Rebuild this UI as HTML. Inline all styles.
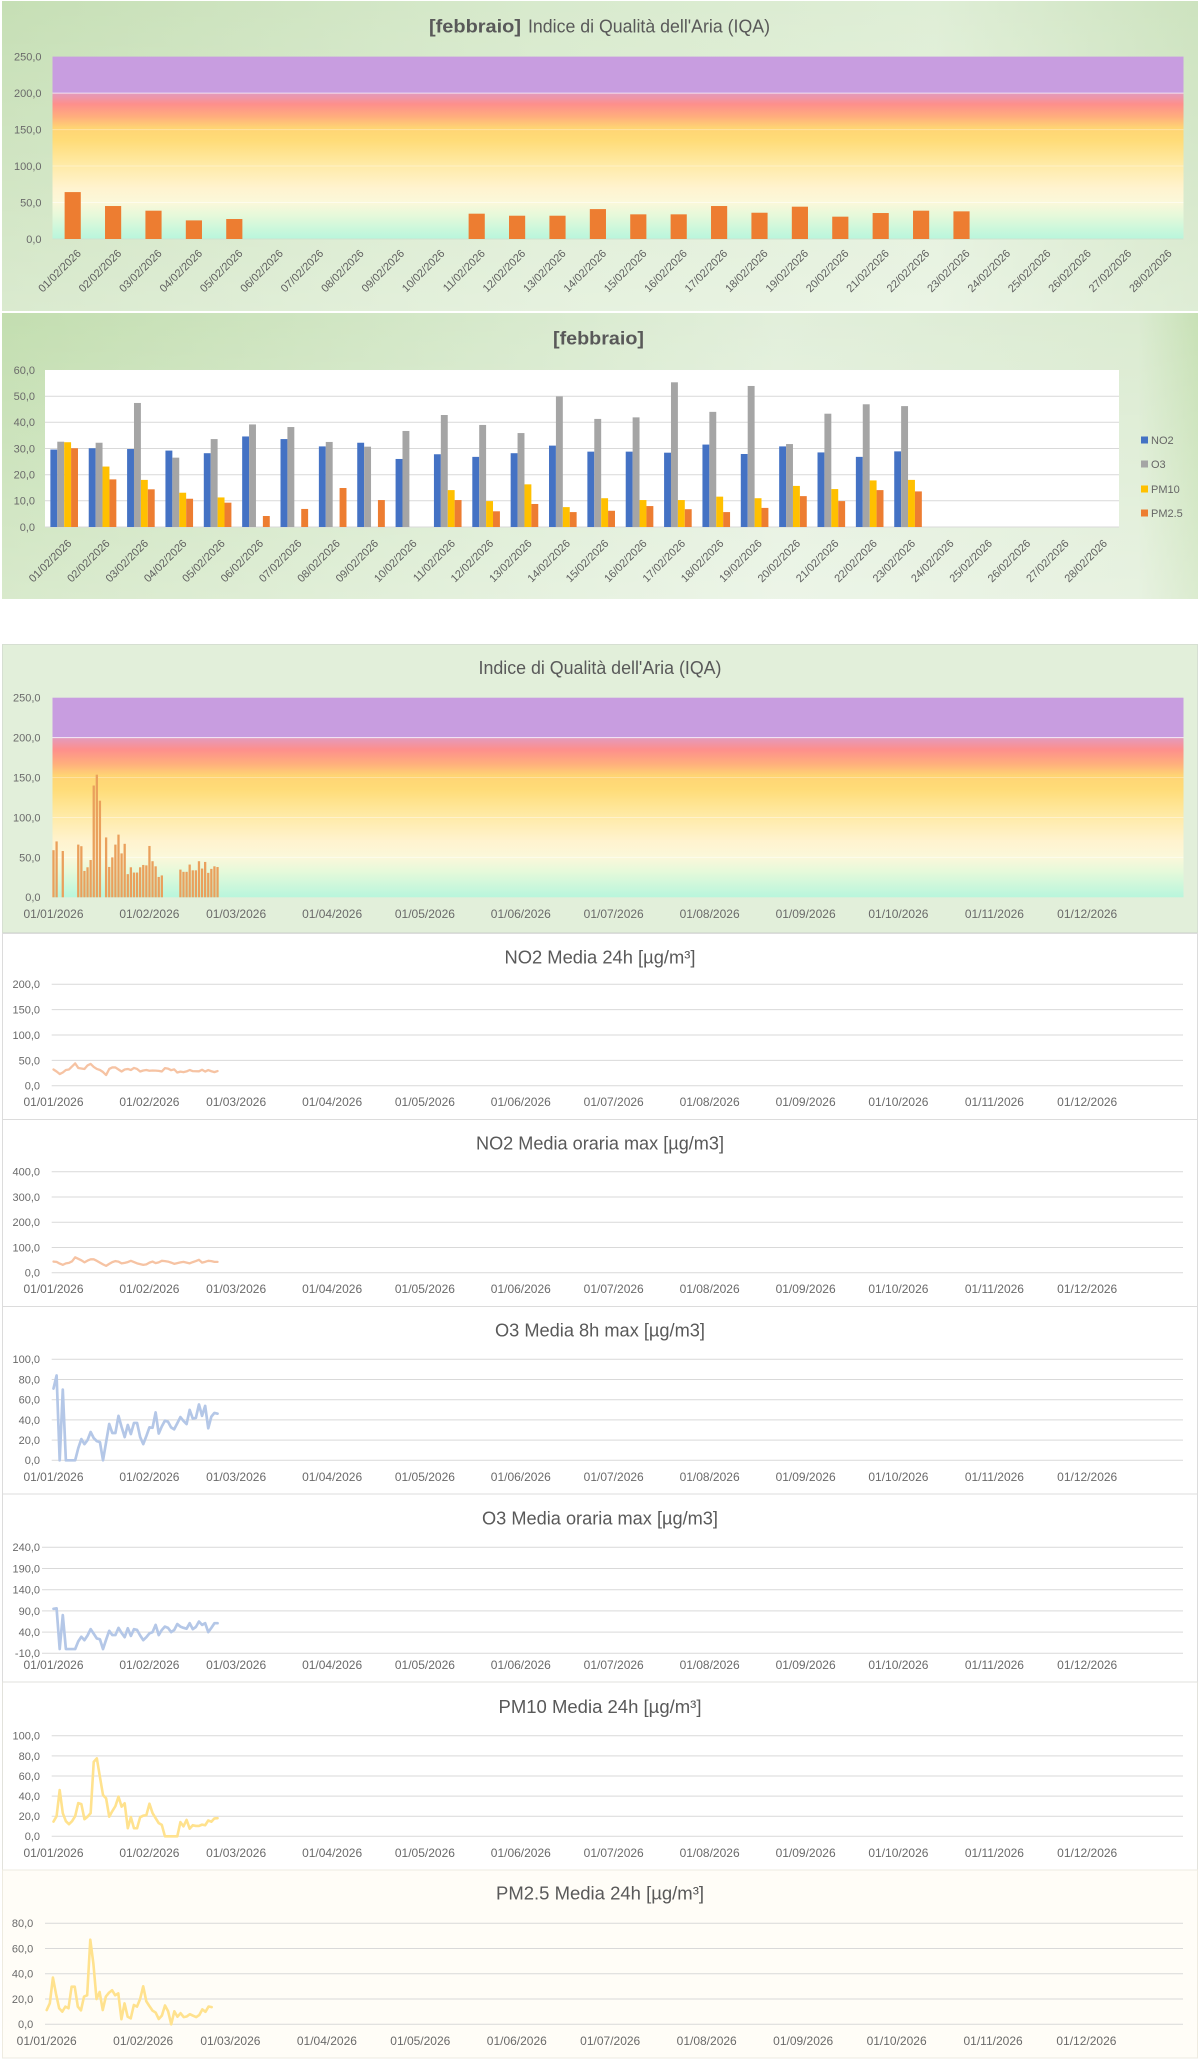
<!DOCTYPE html>
<html><head><meta charset="utf-8"><style>
html,body{margin:0;padding:0;background:#fff;}
svg{display:block;}
text{font-family:"Liberation Sans",Arial,sans-serif;}
.yl{font-size:11px;fill:#6a6a6a;text-anchor:end;}
.dl{font-size:12px;fill:#6a6a6a;text-anchor:middle;}
.rl{font-size:11px;fill:#5f5f5f;text-anchor:end;}
.tt{font-size:18px;fill:#595959;}
.gl{stroke:#d9d9d9;stroke-width:1;}
.ln{fill:none;stroke-linejoin:round;stroke-linecap:round;}
</style></head><body>
<svg width="1200" height="2061" viewBox="0 0 1200 2061" xmlns="http://www.w3.org/2000/svg">
<defs>
<linearGradient id="p1h" x1="0" y1="0" x2="1" y2="0">
<stop offset="0" stop-color="#c6dfb5"/><stop offset="0.45" stop-color="#d8eacd"/><stop offset="0.78" stop-color="#dfeed6"/><stop offset="1" stop-color="#cde3bf"/></linearGradient>
<linearGradient id="pv" x1="0" y1="0" x2="0" y2="1">
<stop offset="0" stop-color="#ffffff" stop-opacity="0"/><stop offset="1" stop-color="#ffffff" stop-opacity="0.35"/></linearGradient>
<linearGradient id="p2h" x1="0" y1="0" x2="1" y2="0">
<stop offset="0" stop-color="#c3deb0"/><stop offset="0.4" stop-color="#d6e9cb"/><stop offset="0.65" stop-color="#e2efdb"/><stop offset="0.95" stop-color="#dbebd1"/><stop offset="1" stop-color="#c8e1b6"/></linearGradient>
<linearGradient id="iqa" x1="0" y1="0" x2="0" y2="1">
<stop offset="0" stop-color="#c89de0"/><stop offset="0.199" stop-color="#c89de0"/>
<stop offset="0.201" stop-color="#e39bbd"/><stop offset="0.26" stop-color="#fe8f8c"/>
<stop offset="0.33" stop-color="#ffae7d"/><stop offset="0.39" stop-color="#ffd474"/>
<stop offset="0.46" stop-color="#ffdc78"/><stop offset="0.58" stop-color="#ffe9a2"/>
<stop offset="0.72" stop-color="#fff3cf"/><stop offset="0.8" stop-color="#fbf8da"/>
<stop offset="0.87" stop-color="#e6f9da"/><stop offset="1" stop-color="#b8f6dc"/></linearGradient>
</defs>

<!-- ============ PANEL 1 ============ -->
<rect x="2" y="1" width="1196" height="310" fill="url(#p1h)"/>
<rect x="2" y="1" width="1196" height="310" fill="url(#pv)"/>
<text class="tt" x="429" y="32.5" font-weight="bold" textLength="92" lengthAdjust="spacingAndGlyphs">[febbraio]</text>
<text class="tt" x="528" y="32.5" textLength="242" lengthAdjust="spacingAndGlyphs">Indice di Qualità dell'Aria (IQA)</text>
<rect x="52.5" y="56.6" width="1131" height="182.4" fill="url(#iqa)"/>
<g stroke="#ffffff" stroke-opacity="0.7" stroke-width="1">
<line x1="52.5" x2="1183.5" y1="93.1" y2="93.1"/><line x1="52.5" x2="1183.5" y1="129.6" y2="129.6" stroke-opacity="0.35"/>
<line x1="52.5" x2="1183.5" y1="166" y2="166" stroke-opacity="0.35"/><line x1="52.5" x2="1183.5" y1="202.5" y2="202.5" stroke-opacity="0.5"/>
</g>
<line x1="52.5" x2="1183.5" y1="239" y2="239" stroke="#cfe3cf" stroke-width="1"/>
<g class="yl">
<text x="41.5" y="242.9" class="yl">0,0</text><text x="41.5" y="206.4" class="yl">50,0</text><text x="41.5" y="169.9" class="yl">100,0</text>
<text x="41.5" y="133.5" class="yl">150,0</text><text x="41.5" y="97" class="yl">200,0</text><text x="41.5" y="60.5" class="yl">250,0</text>
</g>
<g transform="translate(52.5,239) scale(40.4,-0.7296)" fill="#ed7d31">
<rect x="0.3" width="0.4" y="0" height="64.3"/><rect x="1.3" width="0.4" y="0" height="45.2"/>
<rect x="2.3" width="0.4" y="0" height="38.8"/><rect x="3.3" width="0.4" y="0" height="25.5"/>
<rect x="4.3" width="0.4" y="0" height="27.4"/><rect x="10.3" width="0.4" y="0" height="34.7"/>
<rect x="11.3" width="0.4" y="0" height="31.9"/><rect x="12.3" width="0.4" y="0" height="31.9"/>
<rect x="13.3" width="0.4" y="0" height="41"/><rect x="14.3" width="0.4" y="0" height="33.8"/>
<rect x="15.3" width="0.4" y="0" height="33.8"/><rect x="16.3" width="0.4" y="0" height="45.2"/>
<rect x="17.3" width="0.4" y="0" height="36"/><rect x="18.3" width="0.4" y="0" height="44.3"/>
<rect x="19.3" width="0.4" y="0" height="30.6"/><rect x="20.3" width="0.4" y="0" height="35.6"/>
<rect x="21.3" width="0.4" y="0" height="38.8"/><rect x="22.3" width="0.4" y="0" height="37.9"/>
</g>
<g>
<text class="rl" transform="translate(81.7,254) rotate(-45)">01/02/2026</text>
<text class="rl" transform="translate(122.1,254) rotate(-45)">02/02/2026</text>
<text class="rl" transform="translate(162.5,254) rotate(-45)">03/02/2026</text>
<text class="rl" transform="translate(202.9,254) rotate(-45)">04/02/2026</text>
<text class="rl" transform="translate(243.3,254) rotate(-45)">05/02/2026</text>
<text class="rl" transform="translate(283.7,254) rotate(-45)">06/02/2026</text>
<text class="rl" transform="translate(324.1,254) rotate(-45)">07/02/2026</text>
<text class="rl" transform="translate(364.5,254) rotate(-45)">08/02/2026</text>
<text class="rl" transform="translate(404.9,254) rotate(-45)">09/02/2026</text>
<text class="rl" transform="translate(445.3,254) rotate(-45)">10/02/2026</text>
<text class="rl" transform="translate(485.7,254) rotate(-45)">11/02/2026</text>
<text class="rl" transform="translate(526.1,254) rotate(-45)">12/02/2026</text>
<text class="rl" transform="translate(566.5,254) rotate(-45)">13/02/2026</text>
<text class="rl" transform="translate(606.9,254) rotate(-45)">14/02/2026</text>
<text class="rl" transform="translate(647.3,254) rotate(-45)">15/02/2026</text>
<text class="rl" transform="translate(687.7,254) rotate(-45)">16/02/2026</text>
<text class="rl" transform="translate(728.1,254) rotate(-45)">17/02/2026</text>
<text class="rl" transform="translate(768.5,254) rotate(-45)">18/02/2026</text>
<text class="rl" transform="translate(808.9,254) rotate(-45)">19/02/2026</text>
<text class="rl" transform="translate(849.3,254) rotate(-45)">20/02/2026</text>
<text class="rl" transform="translate(889.7,254) rotate(-45)">21/02/2026</text>
<text class="rl" transform="translate(930.1,254) rotate(-45)">22/02/2026</text>
<text class="rl" transform="translate(970.5,254) rotate(-45)">23/02/2026</text>
<text class="rl" transform="translate(1010.9,254) rotate(-45)">24/02/2026</text>
<text class="rl" transform="translate(1051.3,254) rotate(-45)">25/02/2026</text>
<text class="rl" transform="translate(1091.7,254) rotate(-45)">26/02/2026</text>
<text class="rl" transform="translate(1132.1,254) rotate(-45)">27/02/2026</text>
<text class="rl" transform="translate(1172.5,254) rotate(-45)">28/02/2026</text>
</g>

<!-- ============ PANEL 2 ============ -->
<rect x="2" y="313" width="1196" height="286" fill="url(#p2h)"/>
<rect x="2" y="313" width="1196" height="286" fill="url(#pv)"/>
<text class="tt" x="553" y="344.5" font-weight="bold" textLength="91" lengthAdjust="spacingAndGlyphs">[febbraio]</text>
<rect x="45" y="370" width="1074" height="157" fill="#ffffff"/>
<g class="gl" stroke="#e4e4e4">
<line x1="45" x2="1119" y1="396.2" y2="396.2"/><line x1="45" x2="1119" y1="422.3" y2="422.3"/>
<line x1="45" x2="1119" y1="448.5" y2="448.5"/><line x1="45" x2="1119" y1="474.7" y2="474.7"/>
<line x1="45" x2="1119" y1="500.8" y2="500.8"/><line x1="45" x2="1119" y1="527" y2="527" stroke="#d9d9d9"/>
</g>
<text x="35" y="530.9" class="yl">0,0</text><text x="35" y="504.7" class="yl">10,0</text><text x="35" y="478.6" class="yl">20,0</text>
<text x="35" y="452.4" class="yl">30,0</text><text x="35" y="426.2" class="yl">40,0</text><text x="35" y="400.1" class="yl">50,0</text>
<text x="35" y="373.9" class="yl">60,0</text>
<g transform="translate(45,527) scale(38.357,-2.6167)">
<g fill="#4472c4">
<rect x="0.14" width="0.18" y="0" height="29.6"/><rect x="1.14" width="0.18" y="0" height="30.1"/><rect x="2.14" width="0.18" y="0" height="29.8"/>
<rect x="3.14" width="0.18" y="0" height="29.2"/><rect x="4.14" width="0.18" y="0" height="28.2"/><rect x="5.14" width="0.18" y="0" height="34.6"/>
<rect x="6.14" width="0.18" y="0" height="33.6"/><rect x="7.14" width="0.18" y="0" height="30.8"/><rect x="8.14" width="0.18" y="0" height="32.2"/>
<rect x="9.14" width="0.18" y="0" height="26"/><rect x="10.14" width="0.18" y="0" height="27.8"/><rect x="11.14" width="0.18" y="0" height="26.8"/>
<rect x="12.14" width="0.18" y="0" height="28.2"/><rect x="13.14" width="0.18" y="0" height="31.1"/><rect x="14.14" width="0.18" y="0" height="28.8"/>
<rect x="15.14" width="0.18" y="0" height="28.8"/><rect x="16.14" width="0.18" y="0" height="28.4"/><rect x="17.14" width="0.18" y="0" height="31.5"/>
<rect x="18.14" width="0.18" y="0" height="27.9"/><rect x="19.14" width="0.18" y="0" height="30.8"/><rect x="20.14" width="0.18" y="0" height="28.5"/>
<rect x="21.14" width="0.18" y="0" height="26.8"/><rect x="22.14" width="0.18" y="0" height="28.9"/>
</g>
<g fill="#a5a5a5">
<rect x="0.32" width="0.18" y="0" height="32.6"/><rect x="1.32" width="0.18" y="0" height="32.2"/><rect x="2.32" width="0.18" y="0" height="47.4"/>
<rect x="3.32" width="0.18" y="0" height="26.5"/><rect x="4.32" width="0.18" y="0" height="33.6"/><rect x="5.32" width="0.18" y="0" height="39.2"/>
<rect x="6.32" width="0.18" y="0" height="38.2"/><rect x="7.32" width="0.18" y="0" height="32.5"/><rect x="8.32" width="0.18" y="0" height="30.7"/>
<rect x="9.32" width="0.18" y="0" height="36.7"/><rect x="10.32" width="0.18" y="0" height="42.8"/><rect x="11.32" width="0.18" y="0" height="39"/>
<rect x="12.32" width="0.18" y="0" height="35.9"/><rect x="13.32" width="0.18" y="0" height="49.9"/><rect x="14.32" width="0.18" y="0" height="41.3"/>
<rect x="15.32" width="0.18" y="0" height="41.9"/><rect x="16.32" width="0.18" y="0" height="55.3"/><rect x="17.32" width="0.18" y="0" height="44"/>
<rect x="18.32" width="0.18" y="0" height="53.9"/><rect x="19.32" width="0.18" y="0" height="31.7"/><rect x="20.32" width="0.18" y="0" height="43.3"/>
<rect x="21.32" width="0.18" y="0" height="46.9"/><rect x="22.32" width="0.18" y="0" height="46.2"/>
</g>
<g fill="#ffc000">
<rect x="0.5" width="0.18" y="0" height="32.4"/><rect x="1.5" width="0.18" y="0" height="23.1"/><rect x="2.5" width="0.18" y="0" height="18"/>
<rect x="3.5" width="0.18" y="0" height="13.1"/><rect x="4.5" width="0.18" y="0" height="11.3"/>
<rect x="10.5" width="0.18" y="0" height="14.1"/><rect x="11.5" width="0.18" y="0" height="9.9"/><rect x="12.5" width="0.18" y="0" height="16.3"/>
<rect x="13.5" width="0.18" y="0" height="7.6"/><rect x="14.5" width="0.18" y="0" height="11"/><rect x="15.5" width="0.18" y="0" height="10.3"/>
<rect x="16.5" width="0.18" y="0" height="10.3"/><rect x="17.5" width="0.18" y="0" height="11.6"/><rect x="18.5" width="0.18" y="0" height="11"/>
<rect x="19.5" width="0.18" y="0" height="15.7"/><rect x="20.5" width="0.18" y="0" height="14.5"/><rect x="21.5" width="0.18" y="0" height="17.8"/>
<rect x="22.5" width="0.18" y="0" height="18"/>
</g>
<g fill="#ed7d31">
<rect x="0.68" width="0.18" y="0" height="30.1"/><rect x="1.68" width="0.18" y="0" height="18.2"/><rect x="2.68" width="0.18" y="0" height="14.4"/>
<rect x="3.68" width="0.18" y="0" height="10.8"/><rect x="4.68" width="0.18" y="0" height="9.3"/><rect x="5.68" width="0.18" y="0" height="4.2"/>
<rect x="6.68" width="0.18" y="0" height="6.9"/><rect x="7.68" width="0.18" y="0" height="14.9"/><rect x="8.68" width="0.18" y="0" height="10.3"/>
<rect x="10.68" width="0.18" y="0" height="10.3"/><rect x="11.68" width="0.18" y="0" height="6"/><rect x="12.68" width="0.18" y="0" height="8.8"/>
<rect x="13.68" width="0.18" y="0" height="5.7"/><rect x="14.68" width="0.18" y="0" height="6.2"/><rect x="15.68" width="0.18" y="0" height="8"/>
<rect x="16.68" width="0.18" y="0" height="6.8"/><rect x="17.68" width="0.18" y="0" height="5.7"/><rect x="18.68" width="0.18" y="0" height="7.3"/>
<rect x="19.68" width="0.18" y="0" height="11.8"/><rect x="20.68" width="0.18" y="0" height="9.9"/><rect x="21.68" width="0.18" y="0" height="14.1"/>
<rect x="22.68" width="0.18" y="0" height="13.6"/>
</g>
</g>
<g>
<text class="rl" transform="translate(72.2,544) rotate(-45)">01/02/2026</text>
<text class="rl" transform="translate(110.5,544) rotate(-45)">02/02/2026</text>
<text class="rl" transform="translate(148.9,544) rotate(-45)">03/02/2026</text>
<text class="rl" transform="translate(187.3,544) rotate(-45)">04/02/2026</text>
<text class="rl" transform="translate(225.6,544) rotate(-45)">05/02/2026</text>
<text class="rl" transform="translate(264,544) rotate(-45)">06/02/2026</text>
<text class="rl" transform="translate(302.3,544) rotate(-45)">07/02/2026</text>
<text class="rl" transform="translate(340.7,544) rotate(-45)">08/02/2026</text>
<text class="rl" transform="translate(379,544) rotate(-45)">09/02/2026</text>
<text class="rl" transform="translate(417.4,544) rotate(-45)">10/02/2026</text>
<text class="rl" transform="translate(455.8,544) rotate(-45)">11/02/2026</text>
<text class="rl" transform="translate(494.1,544) rotate(-45)">12/02/2026</text>
<text class="rl" transform="translate(532.5,544) rotate(-45)">13/02/2026</text>
<text class="rl" transform="translate(570.8,544) rotate(-45)">14/02/2026</text>
<text class="rl" transform="translate(609.2,544) rotate(-45)">15/02/2026</text>
<text class="rl" transform="translate(647.5,544) rotate(-45)">16/02/2026</text>
<text class="rl" transform="translate(685.9,544) rotate(-45)">17/02/2026</text>
<text class="rl" transform="translate(724.3,544) rotate(-45)">18/02/2026</text>
<text class="rl" transform="translate(762.6,544) rotate(-45)">19/02/2026</text>
<text class="rl" transform="translate(801,544) rotate(-45)">20/02/2026</text>
<text class="rl" transform="translate(839.3,544) rotate(-45)">21/02/2026</text>
<text class="rl" transform="translate(877.7,544) rotate(-45)">22/02/2026</text>
<text class="rl" transform="translate(916,544) rotate(-45)">23/02/2026</text>
<text class="rl" transform="translate(954.4,544) rotate(-45)">24/02/2026</text>
<text class="rl" transform="translate(992.8,544) rotate(-45)">25/02/2026</text>
<text class="rl" transform="translate(1031.1,544) rotate(-45)">26/02/2026</text>
<text class="rl" transform="translate(1069.5,544) rotate(-45)">27/02/2026</text>
<text class="rl" transform="translate(1107.8,544) rotate(-45)">28/02/2026</text>
</g>
<rect x="1141" y="436.5" width="7" height="7" fill="#4472c4"/><text x="1151" y="444" font-size="11" fill="#666">NO2</text>
<rect x="1141" y="460.5" width="7" height="7" fill="#a5a5a5"/><text x="1151" y="468" font-size="11" fill="#666">O3</text>
<rect x="1141" y="485.5" width="7" height="7" fill="#ffc000"/><text x="1151" y="493" font-size="11" fill="#666">PM10</text>
<rect x="1141" y="509.5" width="7" height="7" fill="#ed7d31"/><text x="1151" y="517" font-size="11" fill="#666">PM2.5</text>

<!-- ============ PANEL 3 (IQA year) ============ -->
<rect x="2.5" y="644.5" width="1195" height="288" fill="#e2efda" stroke="#d6dfd2" stroke-width="1"/>
<text class="tt" x="600" y="674" text-anchor="middle" font-size="17" textLength="243" lengthAdjust="spacingAndGlyphs">Indice di Qualità dell'Aria (IQA)</text>
<rect x="52.5" y="697.7" width="1131" height="199.6" fill="url(#iqa)"/>
<g stroke="#ffffff" stroke-width="1">
<line x1="52.5" x2="1183.5" y1="737.6" y2="737.6" stroke-opacity="0.8"/><line x1="52.5" x2="1183.5" y1="777.5" y2="777.5" stroke-opacity="0.3"/>
<line x1="52.5" x2="1183.5" y1="817.5" y2="817.5" stroke-opacity="0.4"/><line x1="52.5" x2="1183.5" y1="857.4" y2="857.4" stroke-opacity="0.5"/>
</g>
<text x="40.5" y="901.2" class="yl">0,0</text><text x="40.5" y="861.3" class="yl">50,0</text><text x="40.5" y="821.4" class="yl">100,0</text>
<text x="40.5" y="781.4" class="yl">150,0</text><text x="40.5" y="741.5" class="yl">200,0</text><text x="40.5" y="701.6" class="yl">250,0</text>
<g transform="translate(53.5,897.3) scale(3.095,-0.7984)" fill="#eaa05c">
<rect x="-0.37" width="0.74" y="0" height="59"/><rect x="0.63" width="0.74" y="0" height="70"/><rect x="2.63" width="0.74" y="0" height="58"/>
<rect x="7.63" width="0.74" y="0" height="66"/><rect x="8.63" width="0.74" y="0" height="64"/><rect x="9.63" width="0.74" y="0" height="33"/>
<rect x="10.63" width="0.74" y="0" height="37.6"/><rect x="11.63" width="0.74" y="0" height="46.7"/><rect x="12.63" width="0.74" y="0" height="140"/>
<rect x="13.63" width="0.74" y="0" height="153.6"/><rect x="14.63" width="0.74" y="0" height="121"/><rect x="16.63" width="0.74" y="0" height="75"/>
<rect x="17.63" width="0.74" y="0" height="38"/><rect x="18.63" width="0.74" y="0" height="50"/><rect x="19.63" width="0.74" y="0" height="66"/>
<rect x="20.63" width="0.74" y="0" height="78.5"/><rect x="21.63" width="0.74" y="0" height="55"/><rect x="22.63" width="0.74" y="0" height="67"/>
<rect x="23.63" width="0.74" y="0" height="29"/><rect x="24.63" width="0.74" y="0" height="37.6"/><rect x="25.63" width="0.74" y="0" height="31"/>
<rect x="26.63" width="0.74" y="0" height="31"/><rect x="27.63" width="0.74" y="0" height="37.6"/><rect x="28.63" width="0.74" y="0" height="40.5"/>
<rect x="29.63" width="0.74" y="0" height="40"/><rect x="30.63" width="0.74" y="0" height="64.3"/><rect x="31.63" width="0.74" y="0" height="45.2"/>
<rect x="32.63" width="0.74" y="0" height="38.8"/><rect x="33.63" width="0.74" y="0" height="25.5"/><rect x="34.63" width="0.74" y="0" height="27.4"/>
<rect x="40.63" width="0.74" y="0" height="34.7"/><rect x="41.63" width="0.74" y="0" height="31.9"/><rect x="42.63" width="0.74" y="0" height="31.9"/>
<rect x="43.63" width="0.74" y="0" height="41"/><rect x="44.63" width="0.74" y="0" height="33.8"/><rect x="45.63" width="0.74" y="0" height="33.8"/>
<rect x="46.63" width="0.74" y="0" height="45.2"/><rect x="47.63" width="0.74" y="0" height="36"/><rect x="48.63" width="0.74" y="0" height="44.3"/>
<rect x="49.63" width="0.74" y="0" height="30.6"/><rect x="50.63" width="0.74" y="0" height="35.6"/><rect x="51.63" width="0.74" y="0" height="38.8"/>
<rect x="52.63" width="0.74" y="0" height="37.9"/>
</g>
<g>
<text class="dl" x="53.5" y="918">01/01/2026</text><text class="dl" x="149.4" y="918">01/02/2026</text><text class="dl" x="236.1" y="918">01/03/2026</text>
<text class="dl" x="332.1" y="918">01/04/2026</text><text class="dl" x="424.9" y="918">01/05/2026</text><text class="dl" x="520.8" y="918">01/06/2026</text>
<text class="dl" x="613.7" y="918">01/07/2026</text><text class="dl" x="709.6" y="918">01/08/2026</text><text class="dl" x="805.6" y="918">01/09/2026</text>
<text class="dl" x="898.4" y="918">01/10/2026</text><text class="dl" x="994.4" y="918">01/11/2026</text><text class="dl" x="1087.2" y="918">01/12/2026</text>
</g>

<!-- ============ LINE PANELS ============ -->
<rect x="2.5" y="933.5" width="1195" height="186" fill="#ffffff" stroke="#dcdcdc"/>
<rect x="2.5" y="1119.5" width="1195" height="187" fill="#ffffff" stroke="#dcdcdc"/>
<rect x="2.5" y="1306.5" width="1195" height="187.5" fill="#ffffff" stroke="#dcdcdc"/>
<rect x="2.5" y="1494" width="1195" height="188" fill="#ffffff" stroke="#dcdcdc"/>
<rect x="2.5" y="1682" width="1195" height="188" fill="#ffffff" stroke="#e2e2dc"/>
<rect x="2.5" y="1870" width="1195" height="188" fill="#fffdf7" stroke="#eeebe0"/>

<!-- NO2 24h -->
<text class="tt" x="600" y="963.3" text-anchor="middle" textLength="191" lengthAdjust="spacingAndGlyphs">NO2 Media 24h [µg/m³]</text>
<g class="gl">
<line x1="51.7" x2="1183" y1="984.3" y2="984.3"/><line x1="51.7" x2="1183" y1="1009.65" y2="1009.65"/>
<line x1="51.7" x2="1183" y1="1035" y2="1035"/><line x1="51.7" x2="1183" y1="1060.35" y2="1060.35"/>
<line x1="51.7" x2="1183" y1="1085.7" y2="1085.7"/>
</g>
<text x="40" y="1089.6" class="yl">0,0</text><text x="40" y="1064.3" class="yl">50,0</text><text x="40" y="1038.9" class="yl">100,0</text>
<text x="40" y="1013.6" class="yl">150,0</text><text x="40" y="988.2" class="yl">200,0</text>
<polyline class="ln" stroke="#f6c3a3" stroke-width="2.3" vector-effect="non-scaling-stroke" transform="translate(53.5,1085.7) scale(3.095,-0.507)"
points="0,32 1,28 2,23 3,26 4,31 5,32 6,38 7,44 8,35 9,34 10,33 11,40 12,43 13,37 14,33 15,31 16,27 17,21 18,33 19,36 20,36 21,32 22,28 23,32 24,33 25,31 26,35 27,33 28,28 29,30 30,31 31,29.5 32,30 33,29.8 34,29.2 35,28 36,34.6 37,33.7 38,30.6 39,32.2 40,26 41,27.8 42,26.7 43,28.2 44,31 45,28.7 46,28.5 47,28.4 48,31.5 49,27.9 50,30.8 51,28.5 52,26.8 53,28.9"/>
<g>
<text class="dl" x="53.5" y="1106.2">01/01/2026</text><text class="dl" x="149.4" y="1106.2">01/02/2026</text><text class="dl" x="236.1" y="1106.2">01/03/2026</text>
<text class="dl" x="332.1" y="1106.2">01/04/2026</text><text class="dl" x="424.9" y="1106.2">01/05/2026</text><text class="dl" x="520.8" y="1106.2">01/06/2026</text>
<text class="dl" x="613.7" y="1106.2">01/07/2026</text><text class="dl" x="709.6" y="1106.2">01/08/2026</text><text class="dl" x="805.6" y="1106.2">01/09/2026</text>
<text class="dl" x="898.4" y="1106.2">01/10/2026</text><text class="dl" x="994.4" y="1106.2">01/11/2026</text><text class="dl" x="1087.2" y="1106.2">01/12/2026</text>
</g>

<!-- NO2 oraria max -->
<text class="tt" x="600" y="1149.5" text-anchor="middle" textLength="248" lengthAdjust="spacingAndGlyphs">NO2 Media oraria max [µg/m3]</text>
<g class="gl">
<line x1="51.7" x2="1183" y1="1171.7" y2="1171.7"/><line x1="51.7" x2="1183" y1="1196.95" y2="1196.95"/>
<line x1="51.7" x2="1183" y1="1222.2" y2="1222.2"/><line x1="51.7" x2="1183" y1="1247.45" y2="1247.45"/>
<line x1="51.7" x2="1183" y1="1272.7" y2="1272.7"/>
</g>
<text x="40" y="1276.6" class="yl">0,0</text><text x="40" y="1251.4" class="yl">100,0</text><text x="40" y="1226.1" class="yl">200,0</text>
<text x="40" y="1200.9" class="yl">300,0</text><text x="40" y="1175.6" class="yl">400,0</text>
<polyline class="ln" stroke="#f6c3a3" stroke-width="2.3" vector-effect="non-scaling-stroke" transform="translate(53.5,1272.7) scale(3.095,-0.2525)"
points="0,44 1,43 2,36 3,31 4,37 5,39 6,45 7,61 8,55 9,49 10,41 11,48 12,53 13,53 14,47 15,40 16,33 17,27 18,35 19,42 20,46 21,44 22,37 23,39 24,42 25,47 26,42 27,37 28,34 29,31 30,33 31,40 32,44 33,38 34,41 35,47 36,46 37,44 38,40 39,35 40,38 41,41 42,43 43,40 44,37 45,42 46,46 47,51 48,40 49,43 50,47 51,46 52,43 53,43"/>
<g>
<text class="dl" x="53.5" y="1293.2">01/01/2026</text><text class="dl" x="149.4" y="1293.2">01/02/2026</text><text class="dl" x="236.1" y="1293.2">01/03/2026</text>
<text class="dl" x="332.1" y="1293.2">01/04/2026</text><text class="dl" x="424.9" y="1293.2">01/05/2026</text><text class="dl" x="520.8" y="1293.2">01/06/2026</text>
<text class="dl" x="613.7" y="1293.2">01/07/2026</text><text class="dl" x="709.6" y="1293.2">01/08/2026</text><text class="dl" x="805.6" y="1293.2">01/09/2026</text>
<text class="dl" x="898.4" y="1293.2">01/10/2026</text><text class="dl" x="994.4" y="1293.2">01/11/2026</text><text class="dl" x="1087.2" y="1293.2">01/12/2026</text>
</g>

<!-- O3 8h max -->
<text class="tt" x="600" y="1336.5" text-anchor="middle" textLength="210" lengthAdjust="spacingAndGlyphs">O3 Media 8h max [µg/m3]</text>
<g class="gl">
<line x1="51.7" x2="1183" y1="1359.3" y2="1359.3"/><line x1="51.7" x2="1183" y1="1379.5" y2="1379.5"/>
<line x1="51.7" x2="1183" y1="1399.7" y2="1399.7"/><line x1="51.7" x2="1183" y1="1419.9" y2="1419.9"/>
<line x1="51.7" x2="1183" y1="1440.1" y2="1440.1"/><line x1="51.7" x2="1183" y1="1460.3" y2="1460.3"/>
</g>
<text x="40" y="1464.2" class="yl">0,0</text><text x="40" y="1444" class="yl">20,0</text><text x="40" y="1423.8" class="yl">40,0</text>
<text x="40" y="1403.6" class="yl">60,0</text><text x="40" y="1383.4" class="yl">80,0</text><text x="40" y="1363.2" class="yl">100,0</text>
<polyline class="ln" stroke="#b4c7e7" stroke-width="2.7" vector-effect="non-scaling-stroke" transform="translate(53.5,1460.3) scale(3.095,-1.01)"
points="0,71 1,84 2,0 3,70 4,0 5,0 6,0 7,0 8,12 9,21 10,16 11,20 12,28 13,22 14,19 15,18 16,0 17,18 18,36 19,27 20,27 21,44 22,33 23,23 24,35 25,26 26,37 27,37 28,23 29,16 30,24 31,32.6 32,32.2 33,47.4 34,26.5 35,33.6 36,39.2 37,38.2 38,32.5 39,30.7 40,36.7 41,42.8 42,39 43,35.9 44,49.9 45,41.3 46,41.9 47,55.3 48,44 49,53.9 50,31.7 51,43.3 52,46.9 53,46.2"/>
<g>
<text class="dl" x="53.5" y="1481.2">01/01/2026</text><text class="dl" x="149.4" y="1481.2">01/02/2026</text><text class="dl" x="236.1" y="1481.2">01/03/2026</text>
<text class="dl" x="332.1" y="1481.2">01/04/2026</text><text class="dl" x="424.9" y="1481.2">01/05/2026</text><text class="dl" x="520.8" y="1481.2">01/06/2026</text>
<text class="dl" x="613.7" y="1481.2">01/07/2026</text><text class="dl" x="709.6" y="1481.2">01/08/2026</text><text class="dl" x="805.6" y="1481.2">01/09/2026</text>
<text class="dl" x="898.4" y="1481.2">01/10/2026</text><text class="dl" x="994.4" y="1481.2">01/11/2026</text><text class="dl" x="1087.2" y="1481.2">01/12/2026</text>
</g>

<!-- O3 oraria max -->
<text class="tt" x="600" y="1524.3" text-anchor="middle" textLength="236" lengthAdjust="spacingAndGlyphs">O3 Media oraria max [µg/m3]</text>
<g class="gl">
<line x1="42" x2="1183" y1="1547.3" y2="1547.3"/><line x1="42" x2="1183" y1="1568.5" y2="1568.5"/>
<line x1="42" x2="1183" y1="1589.7" y2="1589.7"/><line x1="42" x2="1183" y1="1610.9" y2="1610.9"/>
<line x1="42" x2="1183" y1="1632.1" y2="1632.1"/><line x1="42" x2="1183" y1="1653.3" y2="1653.3"/>
</g>
<text x="40" y="1657.2" class="yl">-10,0</text><text x="40" y="1636" class="yl">40,0</text><text x="40" y="1614.8" class="yl">90,0</text>
<text x="40" y="1593.6" class="yl">140,0</text><text x="40" y="1572.4" class="yl">190,0</text><text x="40" y="1551.2" class="yl">240,0</text>
<polyline class="ln" stroke="#b4c7e7" stroke-width="2.7" vector-effect="non-scaling-stroke" transform="translate(53.5,1649.06) scale(3.095,-0.424)"
points="0,95 1,96 2,0 3,80 4,0 5,0 6,0 7,0 8,18 9,29 10,21 11,32 12,47 13,36 14,25 15,23 16,0 17,22 18,43 19,33 20,33 21,50 22,38 23,28 24,49 25,31 26,47 27,45 28,32 29,21 30,28 31,37 32,40 33,57 34,33 35,45 36,53 37,50 38,40 39,45 40,59 41,53 42,50 43,48 44,61 45,47 46,52 47,65 48,57 49,61 50,40 51,50 52,61 53,61"/>
<g>
<text class="dl" x="53.5" y="1669.2">01/01/2026</text><text class="dl" x="149.4" y="1669.2">01/02/2026</text><text class="dl" x="236.1" y="1669.2">01/03/2026</text>
<text class="dl" x="332.1" y="1669.2">01/04/2026</text><text class="dl" x="424.9" y="1669.2">01/05/2026</text><text class="dl" x="520.8" y="1669.2">01/06/2026</text>
<text class="dl" x="613.7" y="1669.2">01/07/2026</text><text class="dl" x="709.6" y="1669.2">01/08/2026</text><text class="dl" x="805.6" y="1669.2">01/09/2026</text>
<text class="dl" x="898.4" y="1669.2">01/10/2026</text><text class="dl" x="994.4" y="1669.2">01/11/2026</text><text class="dl" x="1087.2" y="1669.2">01/12/2026</text>
</g>

<!-- PM10 -->
<text class="tt" x="600" y="1713" text-anchor="middle" textLength="203" lengthAdjust="spacingAndGlyphs">PM10 Media 24h [µg/m³]</text>
<g class="gl">
<line x1="51.7" x2="1183" y1="1735.7" y2="1735.7"/><line x1="51.7" x2="1183" y1="1755.9" y2="1755.9"/>
<line x1="51.7" x2="1183" y1="1776" y2="1776"/><line x1="51.7" x2="1183" y1="1796.1" y2="1796.1"/>
<line x1="51.7" x2="1183" y1="1816.2" y2="1816.2"/><line x1="51.7" x2="1183" y1="1836.3" y2="1836.3"/>
</g>
<text x="40" y="1840.2" class="yl">0,0</text><text x="40" y="1820.1" class="yl">20,0</text><text x="40" y="1800" class="yl">40,0</text>
<text x="40" y="1779.9" class="yl">60,0</text><text x="40" y="1759.8" class="yl">80,0</text><text x="40" y="1739.6" class="yl">100,0</text>
<polyline class="ln" stroke="#ffe28e" stroke-width="2.6" vector-effect="non-scaling-stroke" transform="translate(53.5,1836.3) scale(3.095,-1.006)"
points="0,14.6 1,20 2,46 3,23 4,15 5,12 6,15 7,20 8,33 9,32 10,17 11,19.5 12,23 13,74 14,77.5 15,59 16,41 17,37.7 18,19.5 19,25 20,30 21,39.4 22,29.5 23,32.8 24,8 25,19 26,8 27,8 28,19 29,20.5 30,21 31,32.4 32,23.1 33,18 34,13.1 35,11.3 36,0 37,0 38,0 39,0 40,0 41,14.1 42,9.9 43,16.3 44,7.6 45,11 46,10.3 47,10.3 48,11.6 49,11 50,15.7 51,14.5 52,17.8 53,18"/>
<g>
<text class="dl" x="53.5" y="1857.2">01/01/2026</text><text class="dl" x="149.4" y="1857.2">01/02/2026</text><text class="dl" x="236.1" y="1857.2">01/03/2026</text>
<text class="dl" x="332.1" y="1857.2">01/04/2026</text><text class="dl" x="424.9" y="1857.2">01/05/2026</text><text class="dl" x="520.8" y="1857.2">01/06/2026</text>
<text class="dl" x="613.7" y="1857.2">01/07/2026</text><text class="dl" x="709.6" y="1857.2">01/08/2026</text><text class="dl" x="805.6" y="1857.2">01/09/2026</text>
<text class="dl" x="898.4" y="1857.2">01/10/2026</text><text class="dl" x="994.4" y="1857.2">01/11/2026</text><text class="dl" x="1087.2" y="1857.2">01/12/2026</text>
</g>

<!-- PM2.5 -->
<text class="tt" x="600" y="1899.6" text-anchor="middle" textLength="208" lengthAdjust="spacingAndGlyphs">PM2.5 Media 24h [µg/m³]</text>
<g class="gl">
<line x1="45" x2="1183" y1="1923.3" y2="1923.3"/><line x1="45" x2="1183" y1="1948.55" y2="1948.55"/>
<line x1="45" x2="1183" y1="1973.8" y2="1973.8"/><line x1="45" x2="1183" y1="1999.05" y2="1999.05"/>
<line x1="45" x2="1183" y1="2024.3" y2="2024.3"/>
</g>
<text x="33.3" y="2028.2" class="yl">0,0</text><text x="33.3" y="2003" class="yl">20,0</text><text x="33.3" y="1977.7" class="yl">40,0</text>
<text x="33.3" y="1952.5" class="yl">60,0</text><text x="33.3" y="1927.2" class="yl">80,0</text>
<polyline class="ln" stroke="#ffe28e" stroke-width="2.6" vector-effect="non-scaling-stroke" transform="translate(46.7,2024.3) scale(3.113,-1.2625)"
points="0,11.3 1,16.6 2,37 3,24 4,12.7 5,10 6,14 7,12.7 8,29.8 9,29.8 10,14 11,11 12,22 13,23 14,67 15,48 16,20 17,25.6 18,11.3 19,22 20,25 21,27 22,23 23,24.5 24,4 25,16.6 26,6 27,4.7 28,15.3 29,14 30,20 31,30.1 32,18.2 33,14.4 34,10.8 35,9.3 36,4.2 37,6.9 38,14.9 39,10.3 40,0 41,10.3 42,6 43,8.8 44,5.7 45,6.2 46,8 47,6.8 48,5.7 49,7.3 50,11.8 51,9.9 52,14.1 53,13.6"/>
<g>
<text class="dl" x="46.7" y="2044.9">01/01/2026</text><text class="dl" x="143.2" y="2044.9">01/02/2026</text><text class="dl" x="230.4" y="2044.9">01/03/2026</text>
<text class="dl" x="326.9" y="2044.9">01/04/2026</text><text class="dl" x="420.3" y="2044.9">01/05/2026</text><text class="dl" x="516.8" y="2044.9">01/06/2026</text>
<text class="dl" x="610.2" y="2044.9">01/07/2026</text><text class="dl" x="706.7" y="2044.9">01/08/2026</text><text class="dl" x="803.2" y="2044.9">01/09/2026</text>
<text class="dl" x="896.6" y="2044.9">01/10/2026</text><text class="dl" x="993.1" y="2044.9">01/11/2026</text><text class="dl" x="1086.4" y="2044.9">01/12/2026</text>
</g>
</svg>
</body></html>
